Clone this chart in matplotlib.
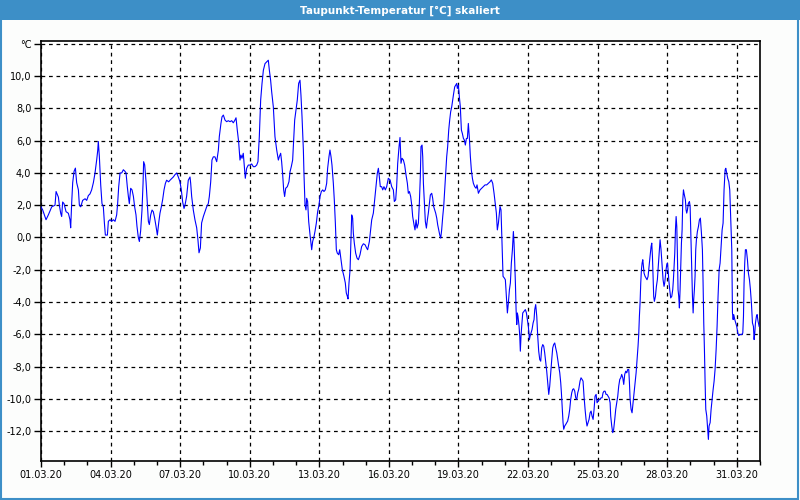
import matplotlib
matplotlib.use("Agg")
import matplotlib.pyplot as plt
import matplotlib.dates as mdates
from matplotlib.patches import Rectangle
from matplotlib.ticker import FixedLocator, FuncFormatter
import numpy as np
import pandas as pd

TITLE = "Taupunkt-Temperatur [°C] skaliert"
START = "2020-03-01"
END = "2020-04-01"
UNIT = "°C"

# hours since 01.03.2020 00:00
hours = [
    0, 1.8, 5.2, 7.6, 11.1, 14.5, 15.6, 18.0, 19.0, 20.4, 21.4, 22.4, 23.8, 25.9, 28.3, 30.0, 30.7, 31.8, 32.8, 34.2,
    35.6, 36.9, 38.7, 39.7, 41.1, 43.1, 45.6, 47.3, 49.0, 50.7, 52.4, 54.2, 55.9, 57.6, 58.7, 59.3, 60.4, 61.8, 63.1, 64.5,
    65.6, 66.6, 68.7, 69.7, 71.4, 73.1, 74.9, 76.6, 78.3, 79.3, 80.4, 81.8, 83.5, 85.2, 86.9, 88.0, 89.3, 90.4, 91.4, 92.8,
    94.2, 95.6, 96.9, 98.3, 99.3, 100.7, 101.8, 103.1, 104.5, 105.6, 106.2, 107.3, 108.7, 110.0, 111.1, 112.1, 113.5, 114.9, 116.2, 117.6,
    119.0, 120.4, 121.8, 123.1, 124.5, 125.9, 127.3, 128.7, 130.0, 132.1, 133.5, 135.2, 136.9, 138.7, 140.4, 142.1, 143.8, 145.2, 146.6, 148.0,
    149.0, 150.7, 152.4, 154.2, 154.9, 155.9, 157.6, 159.3, 161.1, 162.4, 163.5, 164.9, 166.2, 168.0, 169.7, 171.4, 173.1, 174.2, 175.6, 176.9,
    178.3, 180.0, 181.8, 183.5, 184.5,
    186.2, 187.3, 188.7, 190.4, 192.1, 193.8, 195.6, 197.3, 199.0, 200.7, 201.8, 203.1, 204.5, 205.9, 206.9, 208.0, 209.3, 210.4, 211.4,
    212.8, 214.5, 216.3, 218.0, 219.7, 221.4, 223.2, 224.5, 225.9, 227.3, 228.7, 230.1, 231.8, 233.5, 235.2, 236.3, 237.6, 238.7, 240.4, 242.1,
    243.9, 245.6, 246.6, 248.0, 249.0, 250.1, 251.1, 252.1, 253.2, 254.9, 256.6, 257.7, 259.0, 260.4, 261.4, 262.5, 263.9, 265.2, 266.6, 268.0,
    269.0, 270.1, 271.5, 272.1, 273.2, 274.2, 274.9, 275.9, 277.0, 278.4, 279.4, 280.1, 281.1, 282.5, 283.5, 284.9, 286.3, 287.7, 288.7, 290.1,
    291.5, 292.8, 294.2, 295.6, 296.6, 298.0, 299.0, 300.1, 301.1, 302.5, 303.5, 304.6, 305.6, 306.6, 308.0, 309.1, 310.4, 311.8, 313.5, 314.9,
    315.9, 317.0, 317.7, 318.7, 319.8, 320.8, 321.5, 322.5, 323.2, 324.2, 325.6, 327.0, 328.4, 330.1, 331.8, 333.6, 335.3, 337.0, 338.0, 339.8,
    341.1, 342.2, 343.9, 344.9, 346.0, 347.0, 348.0, 349.1, 350.1, 351.1, 352.5, 353.6, 354.9, 356.3, 357.7, 359.4, 361.2, 362.9, 364.6, 365.6,
    367.0, 368.0, 369.1, 370.5,
    371.5, 372.5, 373.6, 375.0, 376.3, 377.7, 379.1, 380.1, 381.2, 382.5, 383.6, 384.6, 386.0, 387.0, 388.1, 389.1, 390.5, 391.5, 392.5, 393.2,
    394.3, 395.0, 395.7, 396.7, 397.7, 398.8, 399.8, 400.8, 401.9, 402.9, 404.3, 405.3, 406.3, 407.4, 408.4, 409.5, 410.5, 411.5, 412.6, 413.6,
    414.6, 415.7, 416.7, 417.7, 418.8, 419.8, 420.8, 421.9, 422.9, 423.9, 425.0, 426.0, 427.0, 428.1, 429.1, 430.2, 430.8, 431.9, 432.9, 433.9,
    435.0, 436.0, 437.1, 438.1, 439.1, 440.2, 441.2, 442.2, 443.3, 444.3, 445.3, 446.4, 447.4, 448.8, 450.2, 451.2, 452.6, 454.3, 456.0, 457.8,
    459.5, 461.2, 462.9, 464.7, 466.0, 467.4, 468.8, 470.2, 471.2, 472.2, 473.3, 474.3, 475.0, 476.0, 477.1, 478.1, 479.5, 480.5, 481.6, 482.6,
    483.6, 484.7, 485.7, 486.7, 487.8, 488.8, 489.5, 490.2, 490.9, 491.6, 492.3, 492.9, 493.6, 494.7, 495.4, 496.0, 496.7, 497.4, 498.5, 499.8,
    501.2, 502.3, 503.3, 504.3, 505.4, 506.1, 507.1, 508.1, 509.2, 510.2, 510.9, 511.9, 513.0, 514.0, 515.0, 516.1, 517.1, 518.1, 519.2, 520.2,
    521.2, 522.3, 523.3, 524.3, 525.4, 526.4, 527.4, 528.5, 529.5, 530.5, 531.6, 532.6, 533.7, 534.7, 535.7, 536.8, 537.8, 538.5, 539.5, 540.2,
    540.9, 541.9, 543.0, 544.0, 545.0, 546.1, 547.1, 548.1, 549.2, 550.2, 551.2, 552.3, 553.3, 554.4, 555.4, 556.4,
    557.8, 558.8, 559.9, 560.9, 561.9, 563.0, 564.0, 565.0, 566.1, 567.1, 568.2, 569.2, 570.2, 571.3, 572.3, 573.3, 574.4, 575.4, 576.4, 577.5,
    578.5, 579.5, 580.6, 581.6, 582.6, 583.7, 584.7, 585.7, 586.8, 587.8, 588.9, 589.5, 590.6, 591.6, 592.6, 593.7, 594.7, 595.8, 596.8, 597.8,
    598.9, 599.9, 600.9, 602.0, 603.0, 604.0, 605.1, 606.1, 607.1, 608.2, 608.9, 609.6, 610.6, 611.6, 612.7, 613.7, 614.7, 615.8, 616.8, 617.8,
    618.5, 619.2, 619.9, 620.6, 621.3, 622.0, 622.7, 623.4, 624.0, 625.1, 626.1, 627.1, 628.2, 629.2, 630.2, 631.3, 632.0, 632.7, 633.4, 634.0,
    634.7, 635.8, 636.8, 637.8, 638.9, 639.9, 640.6, 641.6, 642.7, 643.7, 644.7, 645.4, 646.1, 646.8, 647.5, 648.2, 648.9, 649.6, 650.6, 651.6,
    652.7, 653.7, 654.4, 655.1, 655.8, 656.5, 657.2, 657.9, 658.5, 659.2, 659.9, 660.6, 661.3, 662.0, 662.7, 663.4, 664.1, 664.8, 665.4, 666.1,
    666.8, 667.5, 668.2, 668.9, 669.9, 671.0, 671.7, 672.3, 673.4, 674.1, 674.8, 675.4, 676.1, 676.8, 677.5, 678.2, 679.2, 680.3, 681.3, 682.3,
    683.4, 684.4, 685.1, 685.8, 686.5, 687.2, 687.9, 688.9, 689.6, 690.3, 690.6, 691.3, 692.4, 693.4, 694.4, 695.5, 696.5, 697.5, 698.6, 699.6,
    700.6, 701.7, 702.7, 703.7, 704.8, 705.8, 706.8, 707.9, 708.6, 709.6, 710.6, 711.7, 712.7, 713.7, 714.8, 715.5, 716.2, 716.8, 717.9, 718.9,
    719.9, 721.0, 722.0, 723.1, 724.1, 725.1, 726.2, 726.9, 727.5, 728.2, 728.9, 729.9, 731.0, 732.0, 733.1, 734.1, 735.1, 736.2, 737.2, 737.9,
    738.6, 739.3, 740.3, 741.0, 742.0, 743.1,
]

dewpoint = [
    1.9, 1.7, 1.1, 1.4, 1.9, 2.0, 2.85, 2.5, 2.0, 1.5, 1.3, 2.2, 2.1, 1.6, 1.5, 1.1, 0.6, 2.2, 3.4, 4.1,
    4.3, 3.4, 2.95, 2.0, 1.9, 2.3, 2.4, 2.3, 2.6, 2.7, 2.95, 3.4, 4.0, 4.8, 5.4, 5.95, 5.0, 3.25, 2.1, 1.9,
    0.9, 0.15, 0.15, 1.0, 1.1, 1.0, 1.1, 1.0, 1.4, 2.1, 3.15, 4.0, 4.0, 4.2, 4.1, 4.0, 3.15, 2.55, 2.1, 3.05,
    2.95, 2.55, 1.9, 1.4, 0.7, 0.0, -0.25, 0.4, 1.7, 3.35, 4.7, 4.5, 3.45, 2.1, 1.0, 0.8, 1.4, 1.7, 1.6, 1.2,
    0.7, 0.15, 0.9, 1.5, 1.9, 2.35, 2.95, 3.35, 3.55, 3.45, 3.55, 3.65, 3.75, 3.9, 4.0, 3.75, 3.45, 2.95, 2.2, 1.8,
    2.0, 2.55, 3.55, 3.75, 3.35, 2.55, 1.7, 1.1, 0.6, -0.15, -0.95, -0.65, 0.9, 1.3, 1.6, 1.9, 2.1, 2.55, 3.45, 4.8,
    5.0, 5.0, 4.7, 5.4, 6.25,
    7.07, 7.48, 7.59, 7.28, 7.18, 7.24, 7.18, 7.24, 7.11, 7.28, 7.42, 6.66, 5.94, 4.80, 5.11, 4.91, 5.22, 4.39, 3.67,
    4.29, 4.49, 4.49, 4.56, 4.39, 4.39, 4.49, 4.70, 6.25, 8.52, 9.55, 10.37, 10.78, 10.89, 10.99, 10.37, 9.75, 9.03, 8.10, 6.25,
    5.42, 4.80, 5.01, 5.22, 4.70, 3.88, 2.95, 2.54, 3.05, 3.15, 3.46, 4.08, 4.39, 4.80, 6.04, 7.28, 7.90, 8.52, 9.55, 9.75,
    8.82, 7.48, 5.42, 3.98, 2.02, 1.71, 2.43, 2.23, 0.99, 0.16, -0.35, -0.76, -0.25, 0.06, 0.37, 0.89, 1.61, 2.02, 2.54, 2.85,
    2.95, 2.85, 2.95, 3.36, 4.29, 5.01, 5.42, 5.01, 4.49, 3.36, 2.33, 0.89, -0.76, -0.97, -1.07, -0.76, -1.38, -2.0, -2.41, -2.82,
    -3.44, -3.65, -3.81, -2.82, -2.0, 0.06, 1.40, 1.20, 0.27, -0.35, -0.97, -1.28, -1.38, -1.07, -0.56, -0.39, -0.45, -0.66, -0.76, -0.25,
    0.47, 1.09, 1.51, 2.12, 2.74, 3.46, 3.98, 4.29, 3.77, 3.15, 3.15, 2.95, 3.15, 2.95, 3.15, 3.67, 3.57, 3.15, 2.95, 2.23,
    2.33, 3.15, 4.60, 5.63,
    6.2, 4.60, 4.91, 4.80, 4.49, 3.88, 3.36, 2.74, 2.85, 2.54, 2.02, 1.30, 0.78, 0.47, 1.09, 0.58, 0.89, 2.12, 3.77, 5.63,
    5.73, 5.01, 3.36, 2.12, 0.99, 0.58, 1.09, 1.51, 2.12, 2.64, 2.74, 2.43, 1.92, 1.71, 1.51, 1.20, 0.78, 0.47, 0.16, -0.04,
    0.47, 1.30, 1.92, 2.95, 3.98, 5.01, 5.63, 6.66, 7.28, 7.79, 8.10, 8.52, 8.93, 9.34, 9.44, 9.55, 9.24, 9.44, 8.72, 8.10,
    6.66, 6.45, 6.14, 6.04, 5.73, 6.14, 6.14, 7.07, 6.14, 5.01, 4.19, 3.67, 3.36, 3.15, 3.05, 3.26, 2.74, 2.95, 3.05, 3.15,
    3.26, 3.26, 3.36, 3.46, 3.57, 3.36, 2.74, 2.02, 1.51, 0.47, 0.89, 1.51, 1.92, 1.71, -0.35, -2.41, -2.52, -2.62, -3.65, -4.68,
    -4.06, -3.24, -2.82, -1.59, -0.76, 0.37, -0.35, -1.59, -2.82, -4.47, -5.40, -4.68, -4.89, -5.51, -6.12, -7.05, -6.12, -5.51, -4.68, -4.58,
    -4.47, -4.68, -5.09, -5.51, -6.33, -6.12, -5.92, -5.71, -5.30, -5.09, -4.47, -4.16, -4.89, -6.12, -7.05, -7.57, -7.67, -6.85, -6.64, -6.74,
    -7.15, -7.77, -8.29, -9.01, -9.73, -9.22, -8.39, -7.57, -6.85, -6.64, -6.54, -6.85, -7.15, -7.57, -7.98, -8.39, -9.01, -9.63, -10.66, -11.48,
    -11.89, -11.69, -11.59, -11.48, -11.38, -11.07, -10.66, -10.04, -9.63, -9.42, -9.38, -9.53, -9.94, -10.04, -9.63, -9.42,
    -8.9, -8.70, -8.80, -8.91, -9.84, -10.66, -11.28, -11.69, -11.48, -11.28, -10.87, -10.76, -11.07, -11.28, -10.66, -9.84, -9.73, -10.25, -10.14, -10.04,
    -10.04, -9.94, -9.94, -9.63, -9.53, -9.53, -9.73, -9.73, -9.84, -9.94, -10.25, -11.07, -11.69, -12.10, -11.89, -11.28, -10.66, -10.25, -9.84, -9.22,
    -8.80, -8.70, -8.49, -8.70, -9.11, -8.49, -8.29, -8.39, -8.19, -8.19, -9.01, -10.04, -10.66, -10.87, -10.25, -9.63, -9.01, -8.39, -7.57, -6.74,
    -6.02, -4.89, -4.06, -2.82, -2.0, -1.59, -1.38, -1.79, -2.21, -2.41, -2.52, -2.62, -2.41, -1.79, -1.18, -0.56, -0.35, -1.18, -2.41, -3.65,
    -3.96, -3.65, -3.03, -2.62, -1.59, -0.76, -0.14, -0.76, -1.79, -2.62, -3.03, -2.82, -2.41, -2.0, -1.69, -1.59, -2.0, -2.62, -3.24, -3.75,
    -3.65, -3.24, -2.62, -1.79, -0.97, 0.47, 1.30, 0.68, -0.97, -3.24, -3.65, -4.37, -3.24, -1.79, -0.35, 0.47, 2.33, 2.95, 2.74, 2.54,
    2.33, 1.71, 1.51, 1.71, 2.12, 2.23, 1.92, 0.47, -2.0, -3.65, -4.68, -3.86, -3.24, -2.41, -0.76, -0.14, 0.37, 0.68, 1.09, 1.20,
    0.27, -0.76, -2.82, -5.30, -6.95, -9.01, -10.66, -11.07, -11.69, -12.31, -12.52, -11.69, -11.48, -10.66, -10.04, -9.42, -8.91, -8.19, -6.95, -5.51,
    -3.65, -2.0, -1.59, -0.56, 0.47, 0.89, 2.95, 4.19, 4.29, 3.98, 3.67, 3.46, 2.95, 1.09, -0.76, -4.68, -5.09, -4.78, -5.09, -5.30,
    -5.51, -5.92, -6.08, -6.02, -6.02, -6.02, -5.92, -4.89, -2.82, -1.59, -0.76, -0.76, -1.38, -2.21, -2.62, -3.24, -4.06, -5.30, -5.51, -6.33,
    -5.92, -5.30, -4.89, -4.78, -5.20, -5.51,
]

y_ticks = list(range(-12, 13, 2))

BLUE_BAR = "#3d8fc7"
BG = "#fcfdfc"

plt.rcParams['font.family'] = ['DejaVu Sans']

fig = plt.figure(figsize=(8, 5), dpi=100, facecolor=BG)

# title bar and frame
fig.patches.append(Rectangle((0, 0.96), 1, 0.04, transform=fig.transFigure,
                             facecolor=BLUE_BAR, edgecolor='none', zorder=0))
fig.patches.append(Rectangle((0.001, 0.002), 0.997, 0.996, transform=fig.transFigure,
                             facecolor='none', edgecolor=BLUE_BAR, linewidth=1.5, zorder=5))
fig.text(0.5, 0.979, TITLE, color='white', fontsize=7.5, fontweight='bold',
         ha='center', va='center')

ax = fig.add_axes([0.05125, 0.0786, 0.89875, 0.84])
ax.set_facecolor('white')

t0 = pd.Timestamp(START)
times = t0 + pd.to_timedelta(np.array(hours), unit='h')
ax.plot(times, dewpoint, color='#0000ff', linewidth=0.8, zorder=3)

ax.set_xlim(pd.Timestamp(START), pd.Timestamp(END))
ax.set_ylim(-13.84, 12.2)

# y axis
ax.yaxis.set_major_locator(FixedLocator(y_ticks))
ax.yaxis.set_major_formatter(FuncFormatter(
    lambda v, p: UNIT if abs(v - 12) < 1e-6 else f"{v:.1f}".replace('.', ',')))

# x axis
major_days = pd.date_range(START, "2020-03-31", freq="3D")
minor_days = pd.date_range(START, END, freq="D")
ax.xaxis.set_major_locator(FixedLocator(mdates.date2num(major_days.to_pydatetime())))
ax.xaxis.set_minor_locator(FixedLocator(mdates.date2num(minor_days.to_pydatetime())))
ax.xaxis.set_major_formatter(mdates.DateFormatter("%d.%m.%y"))

ax.tick_params(axis='both', which='major', labelsize=7, colors='black', length=5,
               width=1, direction='out', pad=2)
ax.tick_params(axis='x', which='major', length=4, pad=3)
ax.tick_params(axis='x', which='minor', length=3, width=1)

ax.grid(True, which='major', color='black', linestyle=(0, (3, 3)), linewidth=0.9, zorder=1)

for s in ax.spines.values():
    s.set_color('black')
    s.set_linewidth(1.2)

fig.savefig("out.png", dpi=100, facecolor=BG)
